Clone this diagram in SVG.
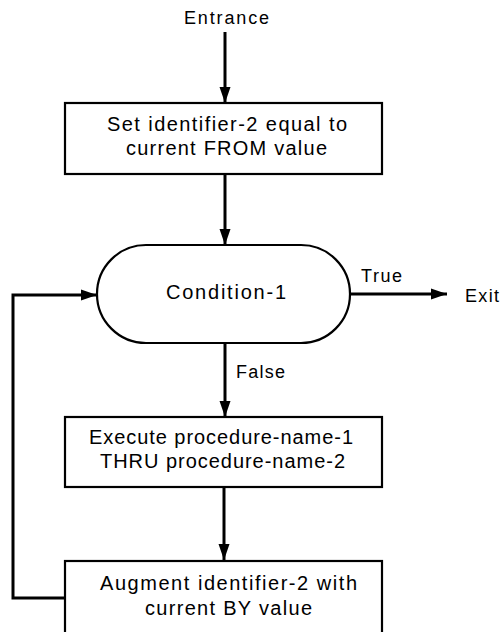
<svg xmlns="http://www.w3.org/2000/svg" width="501" height="632" viewBox="0 0 501 632">
  <style>
    .box { fill: #fff; stroke: #000; stroke-width: 2.2; }
    .wire { fill: none; stroke: #000; stroke-width: 3; }
    .txt { font-family: "Liberation Sans", Arial, sans-serif; font-size: 20px; fill: #000; text-anchor: middle; }
    .lbl { font-family: "Liberation Sans", Arial, sans-serif; font-size: 18px; fill: #000; }
  </style>
  <defs>
    <marker id="arrow" markerUnits="userSpaceOnUse" markerWidth="17" markerHeight="12" refX="16" refY="6" orient="auto">
      <path d="M0,0.5 L16,6 L0,11.5 z" fill="#000"/>
    </marker>
  </defs>

  <rect width="501" height="632" fill="#fff"/>

  <!-- connectors -->
  <g id="connectors">
    <path class="wire" d="M225,32 V103" marker-end="url(#arrow)"/>
    <path class="wire" d="M225,174 V245" marker-end="url(#arrow)"/>
    <path class="wire" d="M350,294 H447" marker-end="url(#arrow)"/>
    <path class="wire" d="M225,343 V417" marker-end="url(#arrow)"/>
    <path class="wire" d="M224,487 V560" marker-end="url(#arrow)"/>
    <path class="wire" d="M65,598 H13 V295 H97" marker-end="url(#arrow)"/>
  </g>

  <!-- edge labels -->
  <g id="labels">
    <text class="lbl" x="184" y="24" textLength="85" lengthAdjust="spacing">Entrance</text>
    <text class="lbl" x="361" y="282" textLength="41" lengthAdjust="spacing">True</text>
    <text class="lbl" x="465" y="302" textLength="34" lengthAdjust="spacing">Exit</text>
    <text class="lbl" x="236" y="378" textLength="49" lengthAdjust="spacing">False</text>
  </g>

  <!-- initialise loop variable -->
  <g id="init">
    <rect class="box" x="65" y="103" width="317" height="71"/>
    <text class="txt" x="227" y="131" textLength="240" lengthAdjust="spacing">Set identifier-2 equal to</text>
    <text class="txt" x="226.5" y="155" textLength="201" lengthAdjust="spacing">current FROM value</text>
  </g>

  <!-- loop test -->
  <g id="condition">
    <rect class="box" x="97" y="245" width="253" height="98" rx="49" ry="49"/>
    <text class="txt" x="226" y="299" textLength="120" lengthAdjust="spacing">Condition-1</text>
  </g>

  <!-- loop body -->
  <g id="execute">
    <rect class="box" x="65" y="417" width="317" height="70"/>
    <text class="txt" x="221" y="444" textLength="264" lengthAdjust="spacing">Execute procedure-name-1</text>
    <text class="txt" x="222.5" y="468" textLength="245" lengthAdjust="spacing">THRU procedure-name-2</text>
  </g>

  <!-- increment step -->
  <g id="augment">
    <rect class="box" x="65" y="561" width="317" height="90"/>
    <text class="txt" x="228.5" y="590" textLength="257" lengthAdjust="spacing">Augment identifier-2 with</text>
    <text class="txt" x="228.5" y="615" textLength="167" lengthAdjust="spacing">current BY value</text>
  </g>
</svg>
